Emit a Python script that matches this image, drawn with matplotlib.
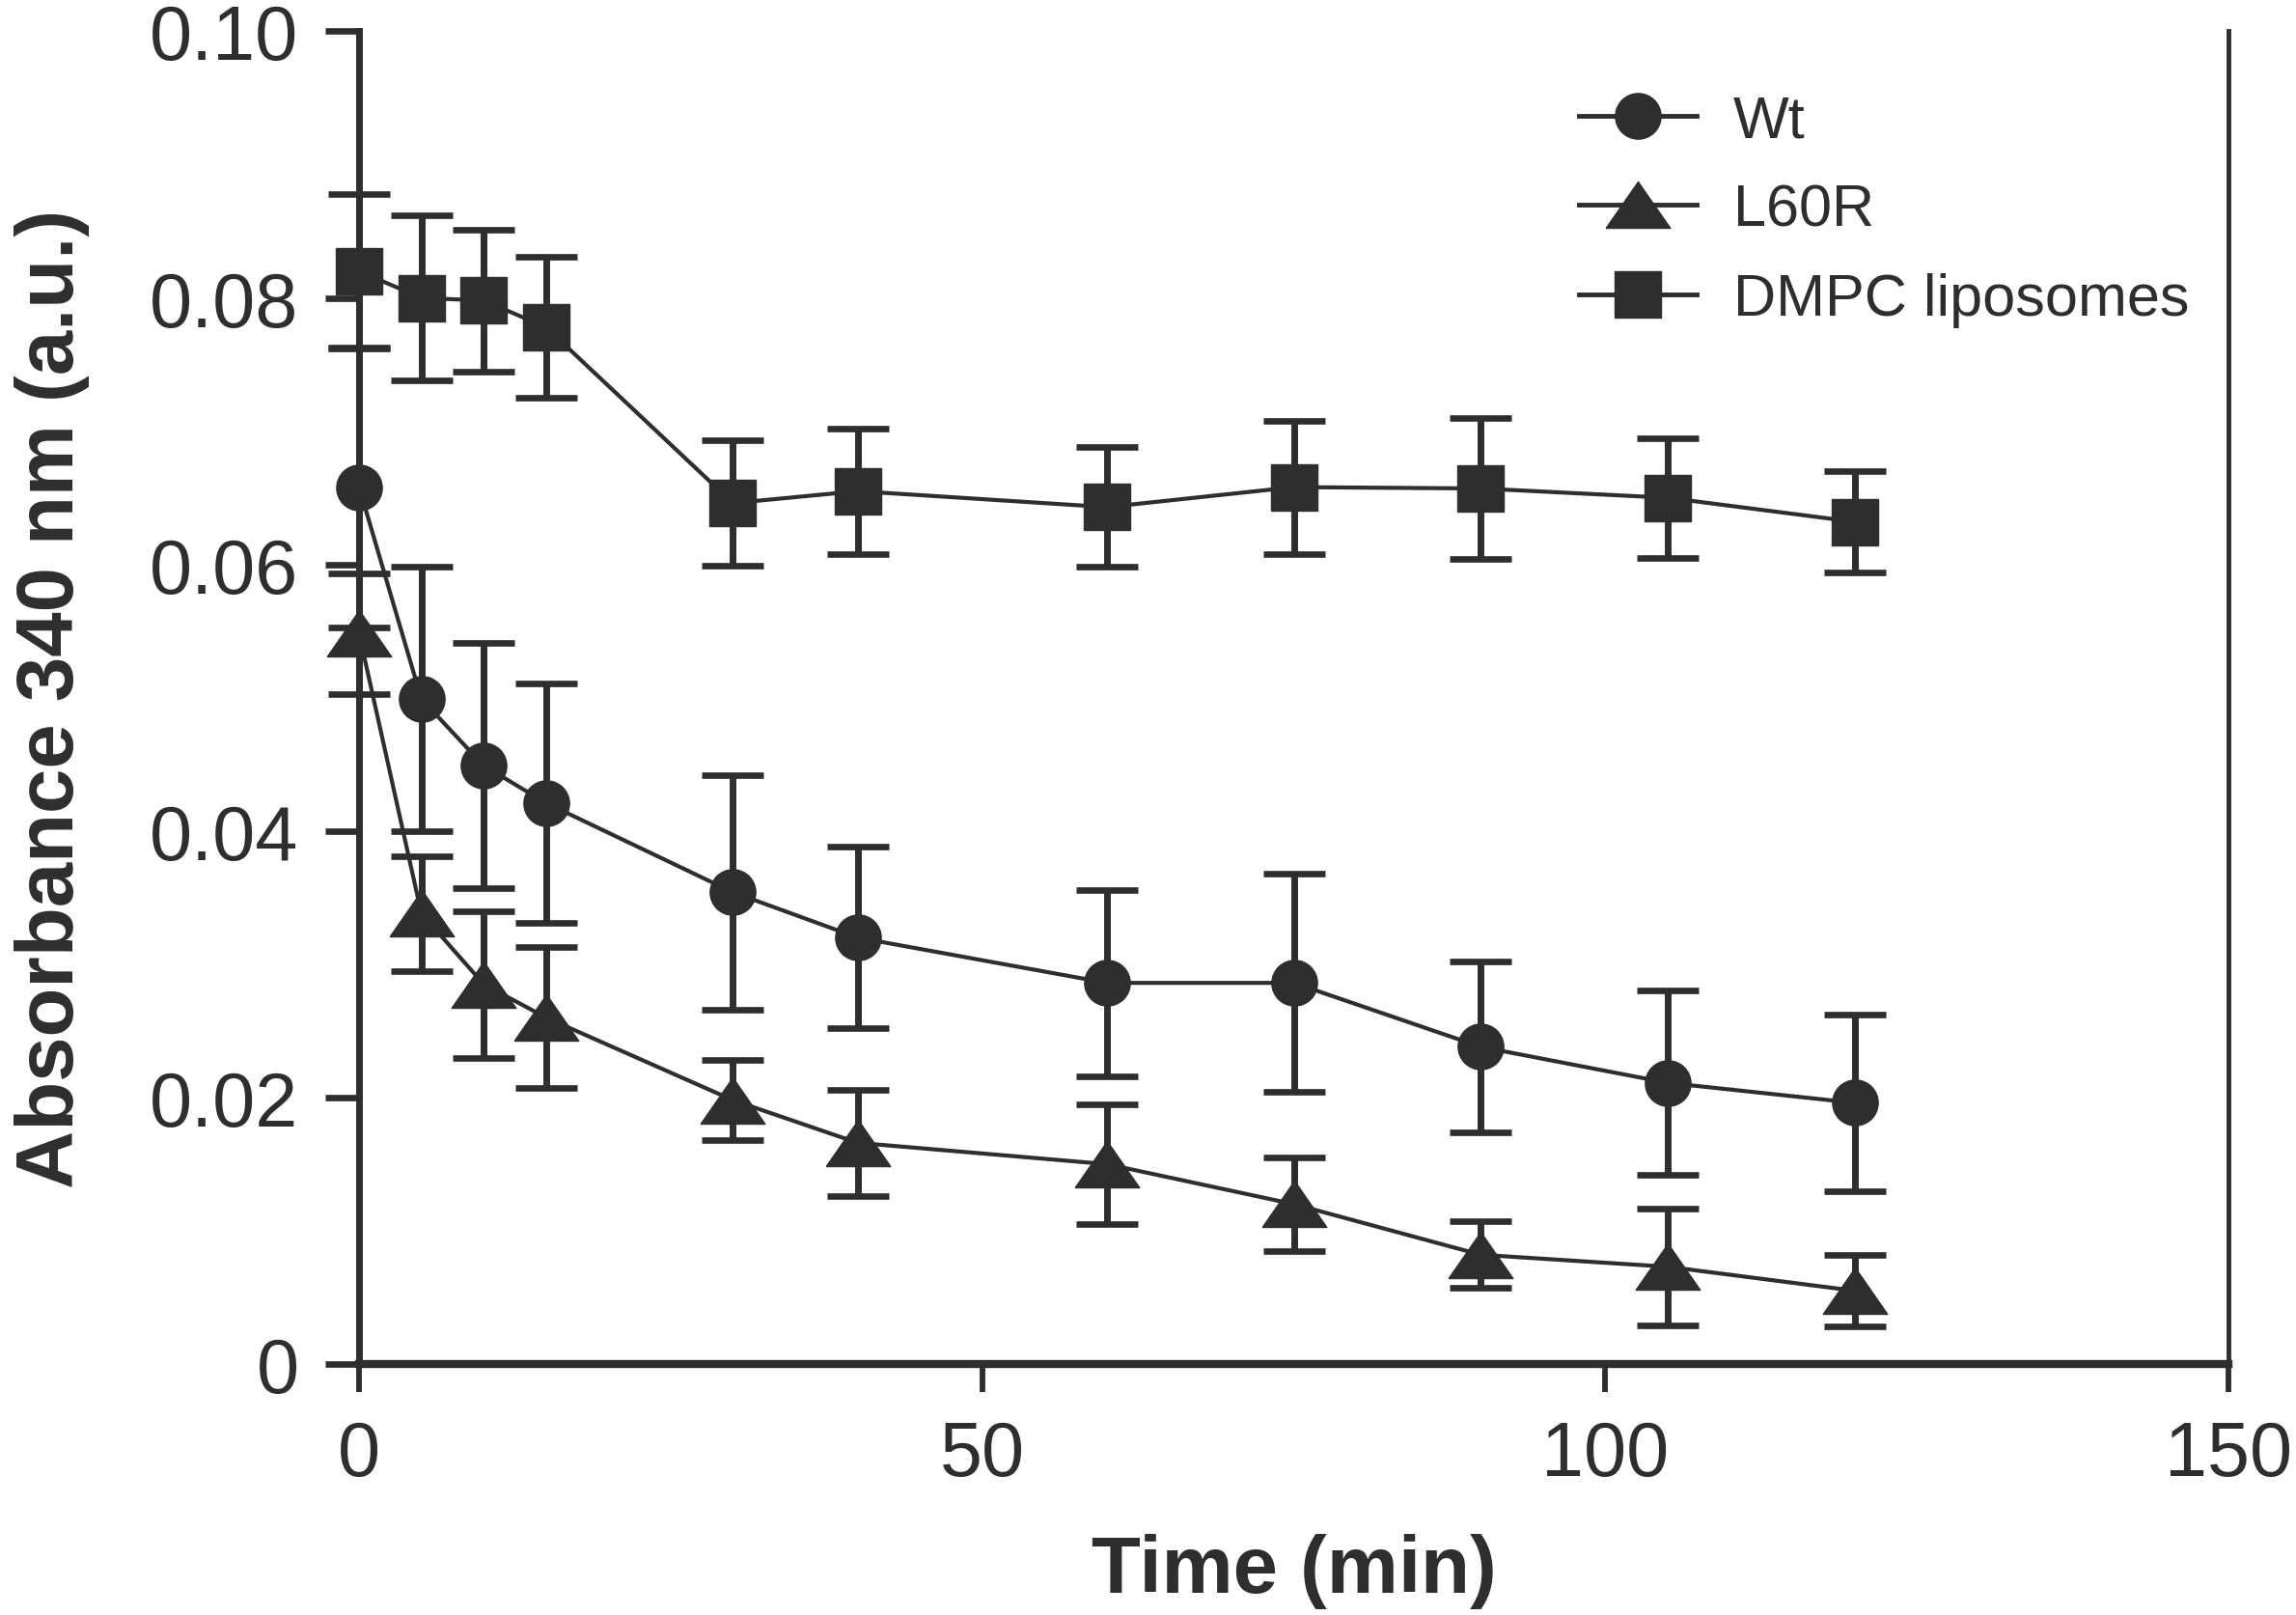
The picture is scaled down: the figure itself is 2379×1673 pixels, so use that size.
import matplotlib
matplotlib.use("Agg")
import matplotlib.pyplot as plt
from matplotlib.lines import Line2D
import numpy as np

plt.rcParams['font.family'] = ['Liberation Sans', 'DejaVu Sans']

time = [0, 5, 10, 15, 30, 40, 60, 75, 90, 105, 120]

wt = [0.0658, 0.0499, 0.0449, 0.0421, 0.0354, 0.0320, 0.0286, 0.0286, 0.0238, 0.0211, 0.0196]
wt_err = [0.0105, 0.0099, 0.0092, 0.0090, 0.0088, 0.0068, 0.0070, 0.0082, 0.0064, 0.0069, 0.0066]

l60r = [0.0548, 0.0338, 0.0285, 0.0260, 0.0198, 0.0166, 0.0150, 0.0120, 0.0082, 0.0073, 0.0055]
l60r_err = [0.0045, 0.0043, 0.0055, 0.0053, 0.0030, 0.0040, 0.0045, 0.0035, 0.0025, 0.0044, 0.0027]

dmpc = [0.0820, 0.0800, 0.0798, 0.0778, 0.0646, 0.0655, 0.0643, 0.0658, 0.0657, 0.0650, 0.0632]
dmpc_err = [0.0058, 0.0062, 0.0053, 0.0053, 0.0047, 0.0047, 0.0045, 0.0050, 0.0053, 0.0045, 0.0038]

labels = ['Wt', 'L60R', 'DMPC liposomes']
xticks = [0, 50, 100, 150]
yticks = [0, 0.02, 0.04, 0.06, 0.08, 0.10]
yticklabels = ['0', '0.02', '0.04', '0.06', '0.08', '0.10']

col = '#2e2e2e'

# wide, flat triangle marker
tri = [(-1.0, -0.72), (1.0, -0.72), (0.0, 0.72), (-1.0, -0.72)]

fig = plt.figure(figsize=(23.79, 16.74), dpi=100)
ax = fig.add_axes([0.1564, 0.1553, 0.8142, 0.8247])

series = [(wt, wt_err, 'o', 34), (l60r, l60r_err, tri, 48), (dmpc, dmpc_err, 's', 34)]
for (vals, errs, m, ms), lab in zip(series, labels):
    ax.errorbar(time, vals, yerr=errs, color=col, marker=m, markersize=ms,
                markeredgecolor=col, markerfacecolor=col,
                linewidth=3.0, elinewidth=5.0, capsize=23, capthick=4.8,
                label=lab, clip_on=False, zorder=3)

ax.set_xlim(0, 150)
ax.set_ylim(0, 0.10)
ax.set_xticks(xticks)
ax.set_xticklabels([str(v) for v in xticks])
ax.set_yticks(yticks)
ax.set_yticklabels(yticklabels)

ax.spines['top'].set_visible(False)
ax.spines['left'].set_linewidth(5)
ax.spines['bottom'].set_linewidth(6)
ax.spines['right'].set_linewidth(3.5)
for s in ax.spines.values():
    s.set_color(col)
    s.set_capstyle('projecting')

ax.tick_params(axis='both', direction='out', color=col, labelcolor=col,
               labelsize=57, pad=20)
ax.tick_params(axis='y', width=4.8, length=25)
ax.tick_params(axis='x', width=4.2, length=21)

ax.set_xlabel('Time (min)', fontsize=60, fontweight='bold', color=col, labelpad=31)
ax.set_ylabel('Absorbance 340 nm (a.u.)', fontsize=60, fontweight='bold', color=col, labelpad=45)

leg_handles = [Line2D([0], [0], color=col, marker=m, markersize=ms, linewidth=3.5,
                      markeredgecolor=col) for (_, _, m, ms) in series]
ax.legend(leg_handles, labels, loc='upper right', frameon=False, fontsize=44,
          handlelength=2.0, handleheight=0.7, labelspacing=0.58,
          bbox_to_anchor=(0.979, 0.953), borderpad=0, borderaxespad=0,
          handletextpad=0.62, labelcolor=col)

fig.savefig('out.png', dpi=100, facecolor='white')
